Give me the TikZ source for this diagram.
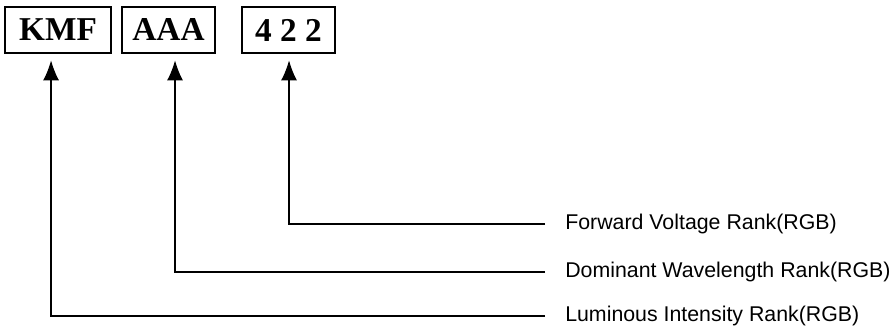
\documentclass[tikz,border=0pt]{standalone}
\usepackage{fontspec}
\setmainfont{Liberation Serif}
\newfontfamily\labelfont{Liberation Sans}
\usepackage{tikz}
\usetikzlibrary{arrows.meta}

\tikzset{
	rankbox/.style={draw, line width=1.1pt, inner sep=0pt, minimum height=34.5pt, font=\fontsize{25}{28}\selectfont\bfseries},
	ranklabel/.style={anchor=west, inner sep=0pt, font=\fontsize{16}{19}\selectfont\labelfont},
	rankwire/.style={line width=0.9pt, -{Latex[length=15pt,width=12pt]}, shorten >=5pt}
}

\begin{document}
\begin{tikzpicture}[x=0.75pt, y=0.75pt]
			\useasboundingbox (0, 0) rectangle (892, 327);
			% Boxes:
			\node[rankbox, minimum width=79.5pt](KMF) at (58, 297){KMF};
			\node[rankbox, minimum width=69.75pt](AAA) at (168.5, 297){AAA};
			\node[rankbox, minimum width=69.75pt](VF) at (288.5, 297){4 2 2};
			% Labels:
			\node[ranklabel](Lvf) at (565, 103){Forward Voltage Rank(RGB)};
			\node[ranklabel](Lwd) at (565, 55){Dominant Wavelength Rank(RGB)};
			\node[ranklabel](Liv) at (565, 11){Luminous Intensity Rank(RGB)};
			% Wires:
			\draw[rankwire] ([xshift=-15pt]Lvf.west) -| ([xshift=0.4pt]VF.south);
			\draw[rankwire] ([xshift=-15pt]Lwd.west) -| ([xshift=4.9pt]AAA.south);
			\draw[rankwire] ([xshift=-15pt]Liv.west) -| ([xshift=-5.2pt]KMF.south);
		\end{tikzpicture}
\end{document}
